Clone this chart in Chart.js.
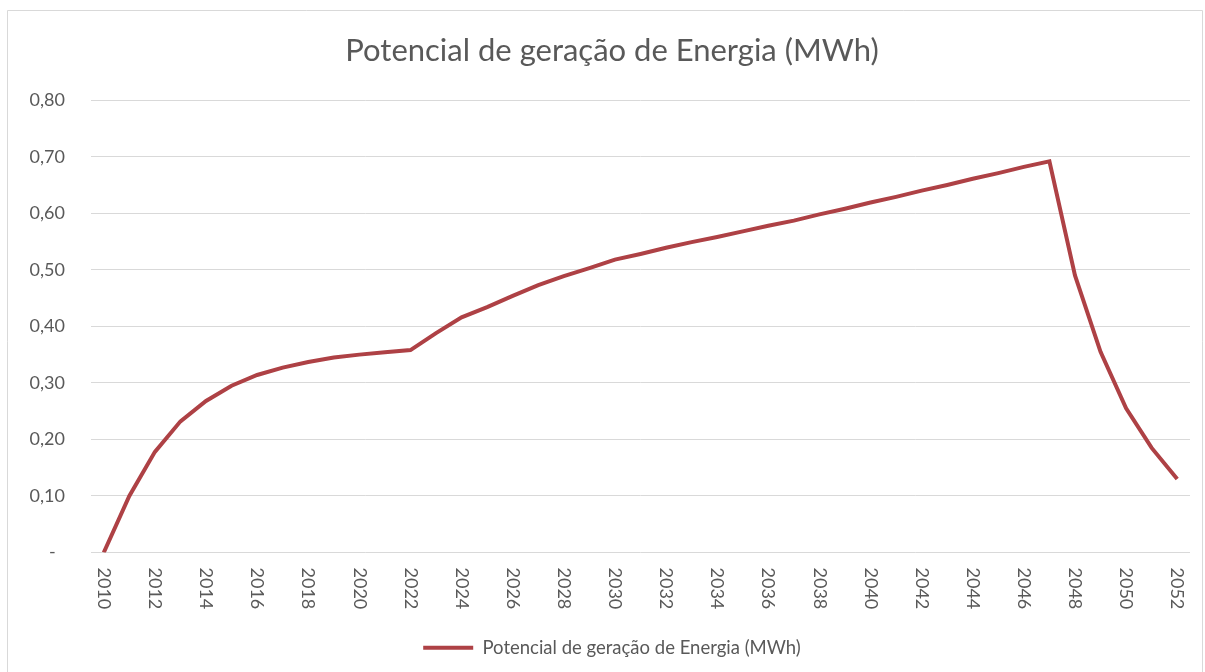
<!DOCTYPE html>
<html>
<head>
<meta charset="utf-8">
<script src="https://cdn.jsdelivr.net/npm/chart.js@4/dist/chart.umd.min.js"></script>
<style>
  html, body { margin: 0; padding: 0; background: #fff; }
  #wrap { width: 1205px; height: 672px; position: relative; }
</style>
</head>
<body>
<div id="wrap"><canvas id="myChart"></canvas></div>
<script>
const anos = ["2010", "2011", "2012", "2013", "2014", "2015", "2016", "2017", "2018", "2019",
    "2020", "2021", "2022", "2023", "2024", "2025", "2026", "2027", "2028", "2029",
    "2030", "2031", "2032", "2033", "2034", "2035", "2036", "2037", "2038", "2039",
    "2040", "2041", "2042", "2043", "2044", "2045", "2046", "2047", "2048", "2049",
    "2050", "2051", "2052"];

const potencial = [0.000, 0.100, 0.178, 0.232, 0.268, 0.295, 0.314, 0.327, 0.337, 0.345,
    0.350, 0.354, 0.358, 0.388, 0.416, 0.434, 0.454, 0.473, 0.489, 0.503,
    0.518, 0.528, 0.539, 0.549, 0.558, 0.568, 0.578, 0.587, 0.598, 0.608,
    0.619, 0.629, 0.640, 0.650, 0.661, 0.671, 0.682, 0.692, 0.490, 0.355,
    0.255, 0.185, 0.130];

const titulo = "Potencial de geração de Energia (MWh)";
const fonte = "Lato, 'Open Sans', sans-serif";
const cinza = "#595959";

// frame around the chart like the excel export
const framePlugin = {
    id: "frame",
    beforeDraw(chart) {
        const c = chart.ctx;
        c.save();
        c.fillStyle = "#fff";
        c.fillRect(0, 0, chart.width, chart.height);
        c.strokeStyle = "#d9d9d9";
        c.lineWidth = 1;
        c.beginPath();
        c.moveTo(7.5, chart.height);
        c.lineTo(7.5, 10.5);
        c.lineTo(chart.width - 2.5, 10.5);
        c.lineTo(chart.width - 2.5, chart.height);
        c.stroke();
        c.restore();
    }
};

// the y labels sit inside the left padding, so widen the y box to the edge
// (otherwise chart.js clips them to the box)
const yBoxPlugin = {
    id: "yBox",
    afterLayout(chart) {
        chart.scales.y.left = 0;
    }
};

// year labels turned clockwise (chart.js only rotates the other way)
const anosPlugin = {
    id: "anosRotados",
    afterDraw(chart) {
        const xs = chart.scales.x;
        const c = chart.ctx;
        c.save();
        c.font = "18px " + fonte;
        c.fillStyle = cinza;
        c.textAlign = "left";
        c.textBaseline = "middle";
        anos.forEach((ano, i) => {
            if (i % 2 !== 0) return;
            const x = xs.getPixelForValue(i);
            c.save();
            c.translate(x, xs.top + 15);
            c.rotate(Math.PI / 2);
            c.fillText(ano, 0, 0);
            c.restore();
        });
        c.restore();
    }
};

const ctx = document.getElementById("myChart").getContext("2d");
new Chart(ctx, {
    type: "line",
    data: {
        labels: anos,
        datasets: [{
            label: titulo,
            data: potencial,
            borderColor: "#ae4145",
            backgroundColor: "#ae4145",
            borderWidth: 4,
            pointRadius: 0,
            tension: 0,
            pointStyle: "line"
        }]
    },
    options: {
        responsive: true,
        maintainAspectRatio: false,
        animation: false,
        layout: { padding: { left: 34, right: 15, top: 10, bottom: 5 } },
        plugins: {
            title: {
                display: true,
                text: titulo,
                color: cinza,
                font: { family: fonte, size: 31, weight: "normal" },
                padding: { top: 22, bottom: 31 }
            },
            legend: {
                position: "bottom",
                labels: {
                    color: cinza,
                    font: { family: fonte, size: 18.5 },
                    usePointStyle: true,
                    pointStyleWidth: 50,
                    padding: 10
                }
            },
            tooltip: { enabled: false }
        },
        scales: {
            x: {
                offset: true,
                grid: { display: false },
                border: { display: false },
                ticks: { color: "rgba(0,0,0,0)", autoSkip: false, maxRotation: 0, callback: () => "" },
                afterFit(scale) { scale.height = 76; }
            },
            y: {
                min: 0,
                max: 0.8,
                grid: { color: "#d9d9d9", drawTicks: false },
                border: { display: false },
                ticks: {
                    stepSize: 0.1,
                    padding: 26,
                    color: cinza,
                    font: { family: fonte, size: 18 },
                    callback: (v) => v === 0 ? "-  " : v.toFixed(2).replace(".", ",")
                },
                afterFit(scale) { scale.width = 57; }
            }
        }
    },
    plugins: [framePlugin, yBoxPlugin, anosPlugin]
});
</script>
</body>
</html>
